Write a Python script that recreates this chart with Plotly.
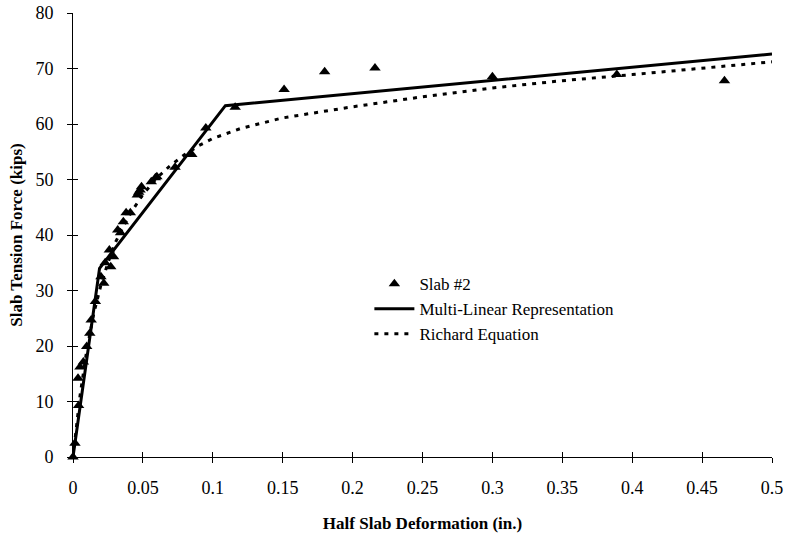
import plotly.graph_objects as go

# Test data: Slab #2
slab_x = [0.0, 0.0014, 0.004, 0.0036, 0.005, 0.0074, 0.0098, 0.012, 0.013, 0.016,
          0.020, 0.022, 0.023, 0.026, 0.027, 0.029, 0.032, 0.034, 0.036, 0.038,
          0.041, 0.046, 0.047, 0.048, 0.049, 0.056, 0.059, 0.060, 0.073, 0.085,
          0.095, 0.116, 0.151, 0.180, 0.216, 0.300, 0.389, 0.466]
slab_y = [0.0, 2.5, 9.3, 14.2, 16.2, 17.1, 19.9, 22.3, 24.7, 28.0,
          32.5, 31.3, 35.0, 37.3, 34.3, 36.1, 40.9, 40.4, 42.4, 44.0,
          44.0, 47.2, 47.7, 48.1, 48.7, 49.6, 50.3, 50.5, 52.2, 54.5,
          59.3, 63.0, 66.2, 69.4, 70.1, 68.5, 68.9, 67.8]

# Multi-linear representation
ml_x = [0.0, 0.019, 0.109, 0.5]
ml_y = [0.0, 34.0, 63.3, 72.6]

# Richard equation curve
ri_x = [0.0, 0.005, 0.01, 0.015, 0.02, 0.025, 0.03, 0.04, 0.05, 0.06, 0.07, 0.08,
        0.09, 0.1, 0.12, 0.15, 0.2, 0.25, 0.3, 0.35, 0.4, 0.45, 0.5]
ri_y = [0.0, 11.0, 19.5, 26.0, 31.0, 35.0, 38.5, 43.5, 47.3, 50.3, 52.6, 54.5,
        56.1, 57.4, 59.2, 61.1, 63.1, 64.9, 66.5, 67.8, 68.9, 70.1, 71.2]

x_ticks = [0, 0.05, 0.1, 0.15, 0.2, 0.25, 0.3, 0.35, 0.4, 0.45, 0.5]
x_tick_text = ["0", "0.05", "0.1", "0.15", "0.2", "0.25", "0.3", "0.35", "0.4", "0.45", "0.5"]
y_ticks = [0, 10, 20, 30, 40, 50, 60, 70, 80]

SERIF = "Liberation Serif, Times New Roman, serif"

fig = go.Figure()
fig.add_trace(go.Scatter(x=slab_x, y=slab_y, mode="markers", name="Slab #2",
                         marker=dict(symbol="triangle-up", size=10, color="black"),
                         cliponaxis=False))
fig.add_trace(go.Scatter(x=ml_x, y=ml_y, mode="lines", name="Multi-Linear Representation",
                         line=dict(color="black", width=3), cliponaxis=False))
fig.add_trace(go.Scatter(x=ri_x, y=ri_y, mode="lines", name="Richard Equation",
                         line=dict(color="black", width=3, dash="4px,6px"), cliponaxis=False))
# invisible trace to hold the overlay axes (inner half of crossing ticks)
fig.add_trace(go.Scatter(x=[0], y=[0], xaxis="x2", yaxis="y2", mode="markers",
                         marker=dict(opacity=0), showlegend=False, hoverinfo="skip"))

fig.update_layout(
    width=797, height=537,
    margin=dict(l=73, r=25, t=13, b=80),
    paper_bgcolor="white", plot_bgcolor="white",
    font=dict(family=SERIF, color="black", size=17),
    showlegend=True,
    legend=dict(x=0.424, y=0.43, xanchor="left", yanchor="top",
                bgcolor="rgba(0,0,0,0)", font=dict(size=17, family=SERIF),
                tracegroupgap=0, itemwidth=40),
    xaxis=dict(range=[0, 0.5], tickvals=x_ticks, ticktext=x_tick_text, automargin=False,
               showgrid=False, zeroline=False, showline=True, linecolor="black", linewidth=1,
               ticks="outside", ticklen=5, tickcolor="black", ticklabelstandoff=9,
               tickfont=dict(size=18, family=SERIF),
               title=dict(text="<b>Half Slab Deformation (in.)</b>", font=dict(size=17, family=SERIF),
                          standoff=20)),
    yaxis=dict(range=[0, 80], tickvals=y_ticks, automargin=False,
               showgrid=False, zeroline=False, showline=True, linecolor="black", linewidth=1,
               ticks="outside", ticklen=5, tickcolor="black", ticklabelstandoff=10,
               tickfont=dict(size=18, family=SERIF),
               title=dict(text="<b>Slab Tension Force (kips)</b>", font=dict(size=17, family=SERIF),
                          standoff=8)),
    xaxis2=dict(range=[0, 0.5], tickvals=x_ticks, overlaying="x", anchor="y2", automargin=False,
                showgrid=False, zeroline=False, showline=False, showticklabels=False,
                ticks="inside", ticklen=5, tickcolor="black"),
    yaxis2=dict(range=[0, 80], tickvals=y_ticks, overlaying="y", anchor="x2", automargin=False,
                showgrid=False, zeroline=False, showline=False, showticklabels=False,
                ticks="inside", ticklen=5, tickcolor="black"),
)

fig.write_html("out.html", config={"displayModeBar": False},
               post_script="document.body.style.margin='0';")
